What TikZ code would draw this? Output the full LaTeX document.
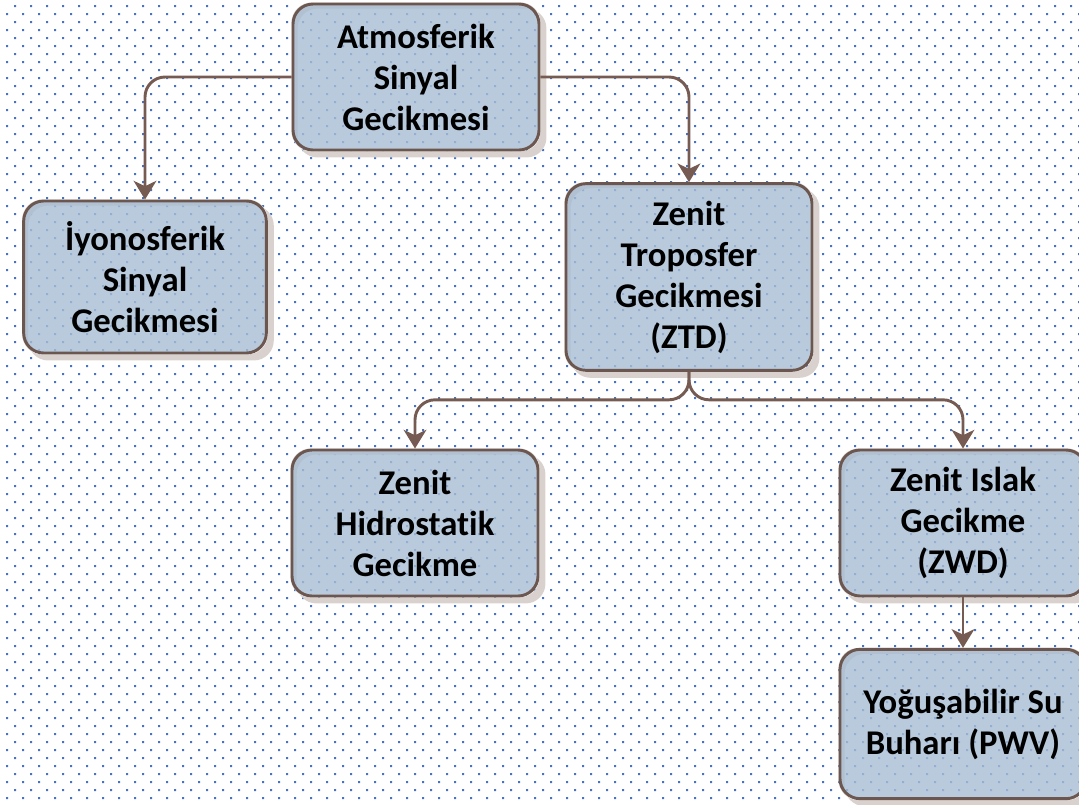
\documentclass[tikz,border=0pt]{standalone}
\usepackage{fontspec}
\newfontfamily\boxfont[Ligatures=NoCommon]{Carlito}
\usepackage{tikz}
\usetikzlibrary{arrows.meta,positioning,calc}
\definecolor{dotblue}{HTML}{4472C4}
\definecolor{boxedge}{HTML}{6B5750}
\definecolor{linkbrown}{HTML}{765B52}
\definecolor{boxfill}{HTML}{A7BDD3}
\definecolor{shadegray}{HTML}{D9D1CD}
\pgfdeclarelayer{bg}
\pgfsetlayers{bg,main}
\tikzstyle{box}=[draw=boxedge,line width=2.2pt,rounded corners=15pt,fill=boxfill,fill opacity=0.8,text opacity=1,
  align=center,inner sep=0pt,minimum width=184.5pt,minimum height=109.5pt,
  font=\boxfont\bfseries\fontsize{26}{30.75}\selectfont]
\tikzstyle{link}=[draw=linkbrown,line width=2.2pt,rounded corners=15pt,-{Stealth[length=14pt,width=17pt,inset=4pt]}]

\begin{document}
\begin{tikzpicture}[x=0.75pt,y=-0.75pt]
  \useasboundingbox (0,0) rectangle (1079,804);
  \node [box] (atm) at (416,77) {Atmosferik\\Sinyal\\Gecikmesi};
  \node [box,minimum width=182pt,minimum height=114pt] (iyo) at (145,277) {İyonosferik\\Sinyal\\Gecikmesi};
  \node [box,minimum height=140pt] (ztd) at (689,277) {Zenit\\Troposfer\\Gecikmesi\\(ZTD)};
  \node [box] (zhd) at (415,523) {Zenit\\Hidrostatik\\Gecikme};
  \node [box] (zwd) at (963,523) {Zenit Islak\\Gecikme\\(ZWD)};
  \node [box,minimum height=112pt] (pwv) at (963,724) {Yoğuşabilir Su\\Buharı (PWV)};
  \coordinate (split) at ($(ztd.south)+(0,28)$);

  \draw [link] (atm.west) -| (iyo.north);
  \draw [link] (atm.east) -| (ztd.north);
  \draw [link] (ztd.south) -- (split) -| (zhd.north);
  \draw [link] (ztd.south) -- (split) -| (zwd.north);
  \draw [link] (zwd.south) -- (pwv.north);

  \begin{pgfonlayer}{bg}
    % dotted sheet
    \foreach \r in {0,...,99} {
      \pgfmathsetmacro\xo{mod(\r,2)==0 ? 15 : 7}
      \fill [dotblue] \foreach \c in {0,...,67} {(\xo+16*\c-1,6+8*\r-1) rectangle ++(2,2)};
    }
    % shadows
    \foreach \n in {atm,iyo,ztd,zhd,zwd,pwv}
      \fill [shadegray,rounded corners=15pt,even odd rule]
        ([shift={(6,6)}]\n.north west) rectangle ([shift={(6,6)}]\n.south east)
        (\n.north west) rectangle (\n.south east);
  \end{pgfonlayer}
\end{tikzpicture}
\end{document}
